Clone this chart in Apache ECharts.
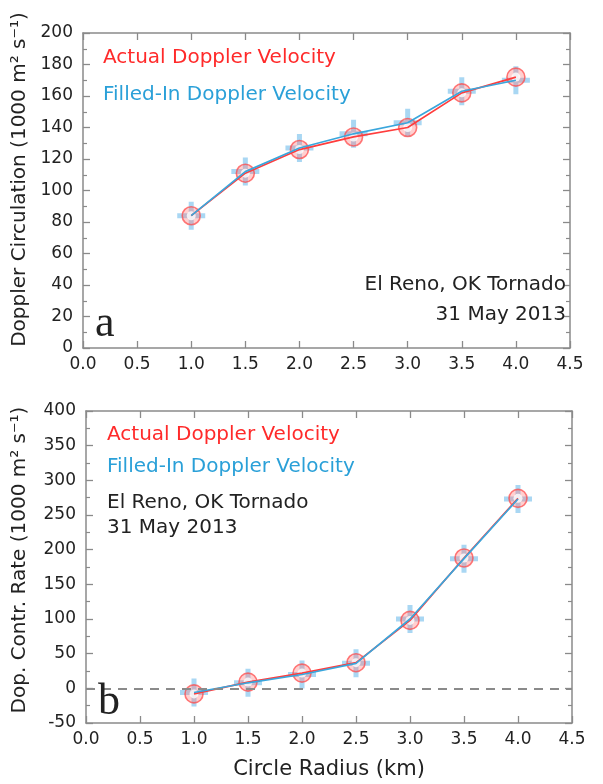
<!DOCTYPE html>
<html>
<head>
<meta charset="utf-8">
<script src="https://cdn.jsdelivr.net/npm/echarts@6/dist/echarts.min.js"></script>
<style>html,body{margin:0;padding:0;background:#fff}#c{width:603px;height:784px}</style>
</head>
<body>
<div id="c"></div>
<script>
const radius = [1.0, 1.5, 2.0, 2.5, 3.0, 3.5, 4.0];
const circActual = [84, 111, 126, 134, 140, 162, 172];
const circFilled = [84, 112, 127, 136, 143, 163, 170];
const rateActual = [-8, 9, 22, 37, 98, 188, 274];
const rateFilled = [-6, 8, 20, 36, 100, 187, 273];
const xTicks = ['0.0','0.5','1.0','1.5','2.0','2.5','3.0','3.5','4.0','4.5'];
const legendActual = 'Actual Doppler Velocity';
const legendFilled = 'Filled-In Doppler Velocity';
const placeLine = 'El Reno, OK Tornado';
const dateLine = '31 May 2013';

const FONT = '"DejaVu Sans", sans-serif';
const AX = '#8a8a8a';
const RED = '#ff3d3d';
const BLUE = '#3aa6dc';
const CROSS = 'path://M11.5,0h5v28h-5z M0,11.5h28v5h-28z';

function pts(ys){ return radius.map((x,i)=>[x, ys[i]]); }

function xAx(grid, pos, labels, extra){
  return Object.assign({
    type:'value', gridIndex:grid, position:pos, min:0, max:4.5, interval:0.5,
    axisLine:{show:true, onZero:false, lineStyle:{color:AX, width:1.5}},
    axisTick:{show:true, inside:true, length:7, lineStyle:{color:AX, width:1.3}},
    axisLabel:{show:labels, margin:8, color:'#222', fontFamily:FONT, fontSize:17,
      formatter:(v)=>xTicks[Math.round(v/0.5)]},
    splitLine:{show:false}
  }, extra||{});
}
function yAx(grid, pos, labels, min, max, iv, extra){
  return Object.assign({
    type:'value', gridIndex:grid, position:pos, min:min, max:max, interval:iv,
    axisLine:{show:true, onZero:false, lineStyle:{color:AX, width:1.5}},
    axisTick:{show:true, inside:true, length:7, lineStyle:{color:AX, width:1.3}},
    minorTick:{show:true, splitNumber:2, length:4, lineStyle:{color:AX, width:1.2}},
    axisLabel:{show:labels, margin:10, color:'#222', fontFamily:FONT, fontSize:17},
    splitLine:{show:false}, minorSplitLine:{show:false}
  }, extra||{});
}

function seriesFor(xi, yi, act, fil, withZero){
  const s = [
    {type:'scatter', xAxisIndex:xi, yAxisIndex:yi, data:pts(fil), symbol:CROSS, symbolSize:[28,28],
      itemStyle:{color:'rgba(120,192,236,0.8)'}, z:1, silent:true},
    {type:'scatter', xAxisIndex:xi, yAxisIndex:yi, data:pts(act), symbol:'circle', symbolSize:18,
      itemStyle:{color:'rgba(255,110,110,0.4)', borderColor:'rgba(255,70,70,0.9)', borderWidth:1.6}, z:2, silent:true},
    {type:'scatter', xAxisIndex:xi, yAxisIndex:yi, data:pts(act), symbol:'emptyCircle', symbolSize:9,
      itemStyle:{color:'rgba(255,255,255,0)', borderColor:'rgba(255,70,70,0.8)', borderWidth:1.2}, z:2, silent:true},
    {type:'line', xAxisIndex:xi, yAxisIndex:yi, data:pts(act), symbol:'none',
      lineStyle:{color:RED, width:1.7}, z:3, silent:true},
    {type:'line', xAxisIndex:xi, yAxisIndex:yi, data:pts(fil), symbol:'none',
      lineStyle:{color:BLUE, width:1.7}, z:4, silent:true}
  ];
  if (withZero) {
    s[0].markLine = {silent:true, symbol:'none', label:{show:false},
      lineStyle:{color:'#8a8a8a', type:[9,7], width:2}, data:[{yAxis:0}]};
  }
  return s;
}

function txt(x, y, text, color, size, align, family){
  return {type:'text', x:x, y:y, z:10, style:{text:text, fill:color,
    font: size + 'px ' + (family||FONT), align:align||'left', verticalAlign:'middle'}};
}

const chart = echarts.init(document.getElementById('c'));
chart.setOption({
  animation:false,
  grid:[
    {left:83, top:33, width:487, height:315},
    {left:86, top:411, width:486, height:312}
  ],
  xAxis:[
    xAx(0,'bottom',true),
    xAx(0,'top',false),
    xAx(1,'bottom',true,{name:'Circle Radius (km)', nameLocation:'middle', nameGap:36,
      nameTextStyle:{fontFamily:FONT, fontSize:21, color:'#222'}}),
    xAx(1,'top',false)
  ],
  yAxis:[
    yAx(0,'left',true,0,200,20,{name:'Doppler Circulation (1000 m\u00B2 s\u207B\u00B9)', nameLocation:'middle', nameGap:53,
      nameRotate:90, nameTextStyle:{fontFamily:FONT, fontSize:20, color:'#222', padding:[0,0,0,22]}}),
    yAx(0,'right',false,0,200,20),
    yAx(1,'left',true,-50,400,50,{name:'Dop. Contr. Rate (1000 m\u00B2 s\u207B\u00B9)', nameLocation:'middle', nameGap:56,
      nameRotate:90, nameTextStyle:{fontFamily:FONT, fontSize:20, color:'#222', padding:[0,0,0,14]}}),
    yAx(1,'right',false,-50,400,50)
  ],
  series:[].concat(seriesFor(0,0,circActual,circFilled,false), seriesFor(2,2,rateActual,rateFilled,true)),
  graphic:[
    txt(103, 58, legendActual, '#ff2a2a', 20),
    txt(103, 95, legendFilled, '#2aa0d8', 20),
    txt(566, 285, placeLine, '#222', 20, 'right'),
    txt(566, 315, dateLine, '#222', 20, 'right'),
    txt(95, 324, 'a', '#222', 44, 'left', '"Liberation Serif", serif'),
    txt(107, 435, legendActual, '#ff2a2a', 20),
    txt(107, 467, legendFilled, '#2aa0d8', 20),
    txt(107, 503, placeLine, '#222', 20),
    txt(107, 528, dateLine, '#222', 20),
    txt(98, 702, 'b', '#222', 44, 'left', '"Liberation Serif", serif')
  ]
});
</script>
</body>
</html>
